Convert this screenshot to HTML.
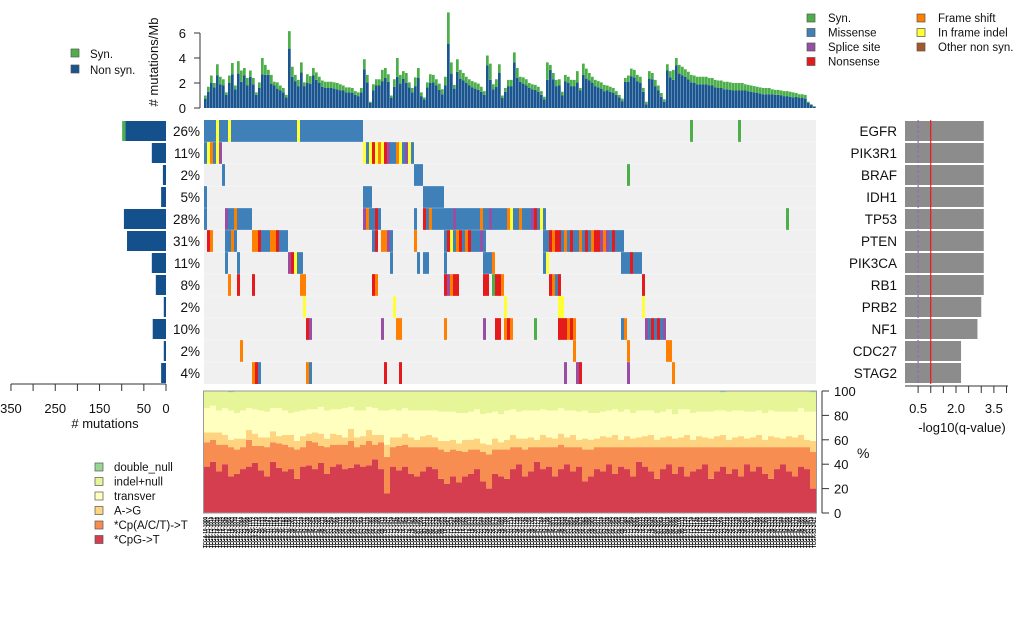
<!DOCTYPE html>
<html><head><meta charset="utf-8"><style>
html,body{margin:0;padding:0;background:#fff;}
svg{display:block;font-family:"Liberation Sans",sans-serif;}
</style></head><body>
<svg id="c" width="1020" height="624" viewBox="0 0 1020 624"></svg>
<script>
const genes=["EGFR","PIK3R1","BRAF","IDH1","TP53","PTEN","PIK3CA","RB1","PRB2","NF1","CDC27","STAG2"];
const pctLabels=["26%","11%","2%","5%","28%","31%","11%","8%","2%","10%","2%","4%"];
const geneNonSyn=[92,32,7,11,95,88,32,23,5,30,5,11];
const geneSyn=[7,0,0,0,0,0,0,0,0,0,0,0];
const qvals=[3.1,3.1,3.1,3.1,3.1,3.1,3.1,3.1,3.0,2.85,2.2,2.2];
const tmbTotal=[1.0,1.7,2.6,2.0,3.5,2.5,2.3,1.25,2.6,3.6,1.8,3.75,3.0,3.2,2.4,3.0,2.4,1.25,2.05,4.0,3.45,3.05,2.65,2.1,2.05,1.8,1.6,1.05,6.15,3.3,2.65,2.25,3.65,2.05,2.7,2.55,3.2,2.85,2.5,2.2,2.1,2.1,2.1,2.05,2.0,1.9,1.8,1.65,1.65,1.6,1.35,1.25,1.6,3.9,2.65,0.5,1.9,2.3,2.3,3.05,3.2,2.7,1.0,2.3,4.0,2.65,2.95,2.8,2.05,1.6,2.45,3.2,1.25,0.85,2.05,2.7,2.65,2.3,1.95,1.5,2.5,7.65,3.65,1.85,3.9,3.05,2.8,2.5,2.3,2.15,2.05,1.95,1.7,1.35,4.2,3.55,1.9,2.3,3.5,1.0,1.6,2.25,2.25,4.45,3.2,2.5,2.45,2.3,2.0,1.9,1.85,1.7,1.35,0.9,3.65,3.45,2.8,2.25,2.3,1.3,2.65,2.5,2.25,2.25,2.95,1.6,3.55,3.15,2.8,2.5,2.25,2.15,2.05,1.85,1.8,1.7,1.6,1.35,1.05,0.75,2.4,2.6,3.15,3.05,2.65,2.5,1.6,0.5,2.95,2.8,2.25,1.8,1.2,0.7,3.5,2.95,3.05,4.0,3.45,3.3,3.1,2.9,2.65,2.6,2.5,2.5,2.5,2.5,2.4,2.4,2.25,2.2,2.2,2.1,2.1,2.05,2.0,2.0,2.0,2.0,1.9,1.85,1.8,1.75,1.7,1.65,1.6,1.6,1.6,1.5,1.45,1.45,1.4,1.35,1.35,1.3,1.25,1.2,1.1,1.1,1.05,0.5,0.3,0.15];
const tmbSyn=[0.25,0.4,0.6,0.35,0.9,0.6,0.5,0.2,0.6,0.9,0.3,1.0,0.9,0.6,0.6,0.5,0.5,0.2,0.45,1.3,0.8,0.4,0.7,0.3,0.5,0.4,0.35,0.2,1.4,0.8,0.5,0.5,0.8,0.3,0.7,0.6,0.6,0.6,0.5,0.5,0.5,0.5,0.5,0.5,0.5,0.5,0.4,0.4,0.4,0.4,0.3,0.3,0.35,0.8,0.6,0.1,0.5,0.5,0.5,0.9,0.8,0.6,0.2,0.6,1.5,0.7,0.6,0.8,0.4,0.35,0.7,0.8,0.3,0.15,0.4,0.7,0.6,0.5,0.5,0.4,0.7,2.5,0.9,0.3,1.0,0.7,0.6,0.5,0.5,0.5,0.5,0.5,0.4,0.3,0.8,1.3,0.4,0.6,0.7,0.2,0.3,0.5,0.5,0.8,0.8,0.4,0.5,0.5,0.4,0.4,0.4,0.4,0.3,0.2,1.4,0.4,0.5,0.5,0.5,0.3,0.5,0.5,0.5,0.5,0.9,0.2,0.9,0.8,0.6,0.5,0.5,0.5,0.5,0.5,0.4,0.4,0.4,0.3,0.2,0.2,0.3,0.5,0.6,0.6,0.5,0.5,0.3,0.2,0.6,0.5,0.5,0.4,0.3,0.2,0.5,0.5,0.8,0.6,0.7,0.7,0.6,0.6,0.6,0.6,0.6,0.6,0.6,0.6,0.6,0.6,0.6,0.6,0.6,0.6,0.6,0.6,0.6,0.6,0.6,0.6,0.5,0.5,0.5,0.5,0.5,0.5,0.5,0.5,0.5,0.4,0.4,0.4,0.4,0.4,0.4,0.4,0.4,0.3,0.3,0.3,0.3,0.1,0.05,0.05];
// events: [gene index, sample index, type]
const events=[
[0,0,"M"],[0,1,"M"],[0,2,"M"],[0,3,"M"],[0,4,"I"],[0,5,"M"],[0,6,"M"],[0,7,"M"],[0,8,"I"],[0,9,"M"],[0,10,"M"],[0,11,"M"],[0,12,"M"],[0,13,"M"],[0,14,"M"],[0,15,"M"],[0,16,"M"],[0,17,"M"],[0,18,"M"],[0,19,"M"],[0,20,"M"],[0,21,"M"],[0,22,"M"],[0,23,"M"],[0,24,"M"],[0,25,"M"],[0,26,"M"],[0,27,"M"],[0,28,"M"],[0,29,"M"],[0,30,"M"],[0,31,"I"],[0,32,"M"],[0,33,"M"],[0,34,"M"],[0,35,"M"],[0,36,"M"],[0,37,"M"],[0,38,"M"],[0,39,"M"],[0,40,"M"],[0,41,"M"],[0,42,"M"],[0,43,"M"],[0,44,"M"],[0,45,"M"],[0,46,"M"],[0,47,"M"],[0,48,"M"],[0,49,"M"],[0,50,"M"],[0,51,"M"],[0,52,"M"],[0,162,"S"],[0,178,"S"],
[1,0,"M"],[1,1,"I"],[1,2,"F"],[1,3,"M"],[1,4,"I"],[1,5,"P"],[1,53,"I"],[1,54,"M"],[1,55,"I"],[1,56,"N"],[1,57,"I"],[1,58,"F"],[1,59,"I"],[1,60,"N"],[1,61,"P"],[1,62,"M"],[1,63,"M"],[1,64,"F"],[1,65,"I"],[1,66,"M"],[1,67,"P"],[1,68,"I"],[1,69,"M"],
[2,6,"M"],[2,70,"M"],[2,71,"M"],[2,72,"M"],[2,141,"S"],
[3,0,"M"],[3,53,"M"],[3,54,"M"],[3,55,"M"],[3,73,"M"],[3,74,"M"],[3,75,"M"],[3,76,"M"],[3,77,"M"],[3,78,"M"],[3,79,"M"],
[4,0,"M"],[4,7,"P"],[4,8,"M"],[4,9,"M"],[4,10,"F"],[4,11,"M"],[4,12,"M"],[4,13,"M"],[4,14,"M"],[4,15,"M"],[4,53,"P"],[4,54,"F"],[4,55,"M"],[4,56,"M"],[4,57,"N"],[4,58,"M"],[4,70,"M"],[4,73,"N"],[4,74,"M"],[4,75,"F"],[4,76,"M"],[4,77,"M"],[4,78,"M"],[4,79,"M"],[4,80,"M"],[4,81,"M"],[4,82,"M"],[4,83,"P"],[4,84,"M"],[4,85,"M"],[4,86,"M"],[4,87,"M"],[4,88,"M"],[4,89,"M"],[4,90,"M"],[4,91,"M"],[4,92,"F"],[4,93,"M"],[4,94,"M"],[4,95,"P"],[4,96,"M"],[4,97,"M"],[4,98,"M"],[4,99,"M"],[4,100,"M"],[4,101,"F"],[4,102,"I"],[4,103,"M"],[4,104,"M"],[4,105,"F"],[4,106,"M"],[4,107,"M"],[4,108,"M"],[4,109,"P"],[4,110,"N"],[4,111,"M"],[4,112,"I"],[4,113,"M"],[4,194,"S"],
[5,1,"N"],[5,2,"F"],[5,7,"M"],[5,8,"M"],[5,9,"F"],[5,10,"M"],[5,16,"F"],[5,17,"F"],[5,18,"N"],[5,19,"M"],[5,20,"M"],[5,21,"M"],[5,22,"F"],[5,23,"F"],[5,24,"N"],[5,25,"M"],[5,26,"M"],[5,27,"M"],[5,56,"M"],[5,57,"N"],[5,59,"F"],[5,60,"F"],[5,61,"P"],[5,62,"M"],[5,70,"F"],[5,80,"M"],[5,81,"N"],[5,82,"I"],[5,83,"M"],[5,84,"F"],[5,85,"N"],[5,86,"M"],[5,87,"F"],[5,88,"N"],[5,89,"M"],[5,90,"M"],[5,91,"M"],[5,92,"P"],[5,93,"M"],[5,113,"M"],[5,114,"M"],[5,115,"N"],[5,116,"F"],[5,117,"N"],[5,118,"N"],[5,119,"M"],[5,120,"F"],[5,121,"M"],[5,122,"N"],[5,123,"M"],[5,124,"M"],[5,125,"F"],[5,126,"M"],[5,127,"N"],[5,128,"M"],[5,129,"F"],[5,130,"N"],[5,131,"N"],[5,132,"P"],[5,133,"F"],[5,134,"P"],[5,135,"M"],[5,136,"N"],[5,137,"M"],[5,138,"M"],[5,139,"M"],
[6,7,"M"],[6,11,"M"],[6,28,"P"],[6,29,"N"],[6,30,"I"],[6,31,"M"],[6,32,"M"],[6,62,"M"],[6,71,"M"],[6,73,"M"],[6,74,"M"],[6,80,"M"],[6,93,"M"],[6,94,"M"],[6,95,"M"],[6,96,"F"],[6,113,"M"],[6,114,"I"],[6,139,"M"],[6,140,"M"],[6,141,"M"],[6,142,"N"],[6,143,"M"],[6,144,"M"],[6,145,"M"],
[7,8,"F"],[7,11,"N"],[7,16,"N"],[7,32,"F"],[7,33,"F"],[7,56,"N"],[7,57,"F"],[7,80,"N"],[7,81,"P"],[7,82,"F"],[7,83,"N"],[7,84,"N"],[7,93,"N"],[7,94,"N"],[7,96,"S"],[7,97,"N"],[7,98,"N"],[7,99,"F"],[7,115,"N"],[7,116,"F"],[7,117,"M"],[7,118,"N"],[7,146,"N"],
[8,33,"I"],[8,63,"I"],[8,100,"I"],[8,118,"I"],[8,119,"I"],[8,146,"I"],
[9,34,"N"],[9,35,"P"],[9,59,"P"],[9,64,"F"],[9,65,"F"],[9,80,"F"],[9,93,"P"],[9,97,"N"],[9,98,"N"],[9,100,"F"],[9,101,"N"],[9,102,"F"],[9,110,"S"],[9,118,"N"],[9,119,"N"],[9,120,"N"],[9,121,"F"],[9,122,"N"],[9,123,"F"],[9,139,"M"],[9,140,"F"],[9,147,"P"],[9,148,"M"],[9,149,"N"],[9,150,"M"],[9,151,"N"],[9,152,"M"],[9,153,"P"],
[10,12,"F"],[10,123,"F"],[10,141,"F"],[10,154,"F"],[10,155,"F"],
[11,16,"F"],[11,17,"N"],[11,18,"M"],[11,34,"F"],[11,35,"M"],[11,60,"N"],[11,65,"N"],[11,120,"P"],[11,124,"P"],[11,125,"N"],[11,141,"P"],[11,156,"F"]
];
const specCpG=[38,42,34,40,30,32,36,38,41,35,30,42,37,34,36,28,38,39,36,41,32,38,40,36,37,40,38,39,44,36,16,38,35,38,32,30,34,38,36,28,24,30,25,30,32,36,26,20,32,30,28,36,40,30,34,42,36,38,30,36,40,34,38,26,30,36,34,40,32,38,36,30,42,38,34,28,36,40,32,38,30,34,36,40,28,34,38,32,36,30,40,34,38,32,28,36,40,34,30,38,36,20];
const specCpX=[20,18,22,16,24,20,18,22,14,20,24,16,20,22,18,24,16,20,22,14,22,18,16,20,22,14,18,20,12,22,30,16,20,18,22,24,20,16,18,24,26,22,26,20,20,16,24,28,20,22,24,18,14,22,20,12,18,16,24,20,14,20,16,26,22,18,20,14,22,16,18,24,12,16,20,26,18,14,22,16,24,20,18,14,26,20,16,22,18,24,14,20,16,22,26,18,14,20,24,16,18,30];
const specAG=[8,6,10,8,6,9,7,8,10,7,8,9,6,8,10,7,9,6,8,10,7,9,8,6,10,8,7,9,8,6,10,8,7,9,8,6,9,10,8,7,9,8,6,10,8,9,7,8,9,6,8,10,7,9,8,6,10,8,7,9,8,10,6,9,8,7,9,8,10,6,9,7,8,9,10,6,8,9,7,8,10,6,9,8,7,9,10,6,8,9,7,8,10,6,9,8,7,9,8,10,6,9];
const specTV=[20,22,18,22,24,21,23,18,20,22,21,19,23,20,18,24,21,20,19,22,23,20,21,24,18,22,21,19,22,20,28,23,22,21,22,24,21,20,22,24,24,23,25,22,23,24,24,26,22,23,24,21,22,23,22,24,21,22,23,21,22,20,23,23,22,21,20,22,21,23,22,21,22,21,20,22,21,22,20,23,21,22,20,21,22,21,20,23,22,21,22,21,20,22,21,21,22,20,21,22,23,24];
const specDbl=[0,0,0,0,1,0,0,0,0,0,0,0,0,0,0,0,0,0,0,0,0,0,0,0,0,0,0,0,0,0,0,0,0,0,0,0,0,0,0,0,0,0,0,0,0,0,0,0,0,0,0,0,0,0,0,0,0,0,0,0,0,0,0,0,0,0,0,0,0,0,0,0,0,0,0,0,0,0,0,0,0,0,0,0,0,0,1,0,0,0,0,0,0,0,0,0,0,0,0,0,0,1];
const tmbTicks=[0,2,4,6];
const mutTicks=[350,250,150,50,0];
const qTicks=[0.5,2.0,3.5];
const pctTicks=[0,20,40,60,80,100];

const NS="http://www.w3.org/2000/svg";
const svg=document.getElementById('c');
function mk(tag,attrs,parent){const e=document.createElementNS(NS,tag);for(const k in attrs)e.setAttribute(k,attrs[k]);(parent||svg).appendChild(e);return e;}
const typeColor={S:"#4daf4a",M:"#3f80b9",P:"#984ea3",N:"#e41a1c",F:"#ff7f00",I:"#ffff33",O:"#a65628"};
const nSamples=tmbTotal.length;
const X0=204,X1=816,sw=(X1-X0)/nSamples;
const sx=i=>X0+i*sw;
const tmbY=v=>108-v*12.5;
const gT=mk('g',{});
for(let i=0;i<nSamples;i++){
 const tot=tmbTotal[i],syn=tmbSyn[i],ns=tot-syn;
 const r1=mk('rect',{x:sx(i),y:tmbY(ns),width:sw-0.3,height:108-tmbY(ns),fill:"#1a5590"},gT);
 
 const r2=mk('rect',{x:sx(i),y:tmbY(tot),width:sw-0.3,height:tmbY(ns)-tmbY(tot),fill:"#4daf4a"},gT);
 
}
mk('line',{x1:200,y1:tmbY(0),x2:200,y2:tmbY(6),stroke:"#333"});
tmbTicks.forEach(t=>{mk('line',{x1:194,y1:tmbY(t),x2:200,y2:tmbY(t),stroke:"#333"});
 const tx=mk('text',{x:186,y:tmbY(t)+5,'font-size':13,'text-anchor':'end',fill:'#111'});tx.textContent=t;});
const yt=mk('text',{x:0,y:0,'font-size':13,'text-anchor':'middle',transform:'translate(158,62) rotate(-90)',fill:'#111'});yt.textContent="# mutations/Mb";
[["Syn.","#4daf4a"],["Non syn.","#1a5590"]].forEach((d,k)=>{
 const r=mk('rect',{x:71,y:49+k*16,width:8,height:8,fill:d[1],stroke:'#555','stroke-width':0.7});
 const t=mk('text',{x:90,y:58+k*16,'font-size':11.5,fill:'#111'});t.textContent=d[0];});
const leg=[["Syn.","S",0,0],["Missense","M",0,1],["Splice site","P",0,2],["Nonsense","N",0,3],["Frame shift","F",1,0],["In frame indel","I",1,1],["Other non syn.","O",1,2]];
leg.forEach(d=>{const x=d[2]?917:807,y=18+d[3]*14.5;
 const r=mk('rect',{x:x,y:y-4,width:8,height:8,fill:typeColor[d[1]],stroke:'#555','stroke-width':0.7});
 const t=mk('text',{x:x+21,y:y+4,'font-size':11.5,fill:'#111'});t.textContent=d[0];});
const RY0=120,RH=22;
const bg=mk('rect',{x:X0,y:RY0,width:X1-X0,height:RH*genes.length,fill:"#f0f0f0"});
events.forEach(e=>{const r=mk('rect',{x:sx(e[1]),y:RY0+e[0]*RH,width:sw,height:RH,fill:typeColor[e[2]]});});
for(let g=1;g<genes.length;g++){mk('line',{x1:X0,y1:RY0+g*RH,x2:X1,y2:RY0+g*RH,stroke:'#fff','stroke-width':0.6,'stroke-opacity':0.5});}
const mX=v=>166-v*0.443;
const qx=v=>905.5+v*25.25;
genes.forEach((g,k)=>{const y=RY0+k*RH+1;
 const r=mk('rect',{x:mX(geneNonSyn[k]),y:y,width:166-mX(geneNonSyn[k]),height:RH-2,fill:"#13508c"});
 if(geneSyn[k]>0){const r2=mk('rect',{x:mX(geneNonSyn[k]+geneSyn[k]),y:y,width:mX(geneNonSyn[k])-mX(geneNonSyn[k]+geneSyn[k]),height:RH-2,fill:"#4daf4a"});}
 const p=mk('text',{x:200,y:y+15,'font-size':13.5,'text-anchor':'end',fill:'#111'});p.textContent=pctLabels[k];
 const gl=mk('text',{x:897,y:y+15,'font-size':13.5,'text-anchor':'end',fill:'#111'});gl.textContent=g;
 const q=mk('rect',{x:905,y:y,width:qx(qvals[k])-905,height:RH-2,fill:"#8c8c8c"});
});
mk('line',{x1:mX(350),y1:384,x2:166,y2:384,stroke:'#333'});
[350,300,250,200,150,100,50,0].forEach(t=>mk('line',{x1:mX(t),y1:384,x2:mX(t),y2:391,stroke:'#333'}));
mutTicks.forEach(t=>{const tx=mk('text',{x:mX(t),y:413,'font-size':13,'text-anchor':'middle',fill:'#111'});tx.textContent=t;});
const mt=mk('text',{x:105,y:428,'font-size':13,'text-anchor':'middle',fill:'#111'});mt.textContent="# mutations";
mk('line',{x1:qx(0.5),y1:RY0,x2:qx(0.5),y2:RY0+RH*12,stroke:'#9467bd','stroke-width':1.2,'stroke-dasharray':'3,2'});
mk('line',{x1:qx(1),y1:RY0,x2:qx(1),y2:RY0+RH*12,stroke:'#ff0000','stroke-width':1});
mk('line',{x1:905,y1:386,x2:1008,y2:386,stroke:'#333'});
[0.5,1,1.5,2,2.5,3,3.5,4].forEach(t=>mk('line',{x1:qx(t),y1:386,x2:qx(t),y2:393,stroke:'#333'}));
qTicks.forEach(t=>{const tx=mk('text',{x:qx(t),y:413,'font-size':13,'text-anchor':'middle',fill:'#111'});tx.textContent=t.toFixed(1);});
const qt=mk('text',{x:962,y:432,'font-size':13,'text-anchor':'middle',fill:'#111'});qt.textContent="-log10(q-value)";
const SY0=391,SY1=513;
const pY=v=>SY1-v*(SY1-SY0)/100;
const specCols=["#d53e4f","#f88d52","#fed481","#ffffbf","#e6f598","#99d594"];
const nS=specCpG.length,ssw=(X1-X0)/nS;
for(let i=0;i<nS;i++){
 const indel=100-specCpG[i]-specCpX[i]-specAG[i]-specTV[i]-specDbl[i];
 const vals=[specCpG[i],specCpX[i],specAG[i],specTV[i],indel,specDbl[i]];
 let acc=0;
 vals.forEach((v,k)=>{if(v<=0)return;const r=mk('rect',{x:X0+i*ssw,y:pY(acc+v),width:ssw+0.2,height:pY(acc)-pY(acc+v),fill:specCols[k]});acc+=v;});
}
mk('rect',{x:203.5,y:SY0,width:613,height:SY1-SY0,fill:'none',stroke:'#999','stroke-width':1});
mk('line',{x1:822,y1:pY(0),x2:822,y2:pY(100),stroke:'#333'});
pctTicks.forEach(t=>{mk('line',{x1:822,y1:pY(t),x2:829,y2:pY(t),stroke:'#333'});
 const tx=mk('text',{x:834,y:pY(t)+5,'font-size':13,fill:'#111'});tx.textContent=t;});
const pt=mk('text',{x:857,y:458,'font-size':14,fill:'#111'});pt.textContent="%";
const sleg=[["double_null",5],["indel+null",4],["transver",3],["A->G",2],["*Cp(A/C/T)->T",1],["*CpG->T",0]];
sleg.forEach((d,k)=>{const y=467+k*14.5;
 const r=mk('rect',{x:95,y:y-4,width:8,height:8,fill:specCols[d[1]],stroke:'#555','stroke-width':0.7});
 const t=mk('text',{x:114,y:y+4,'font-size':11.5,fill:'#111'});t.textContent=d[0];});
const gl=mk('g',{});
for(let i=0;i<nSamples;i++){
 const t=mk('text',{x:0,y:0,'font-size':5,fill:'#000','font-weight':'bold',transform:`translate(${sx(i)+3.2},517) rotate(-90)`,'text-anchor':'end','textLength':31,'lengthAdjust':'spacingAndGlyphs'},gl);
 t.textContent="TCGA-"+(10+i%80)+"-"+(1000+i*7);
 
}
</script>
</body></html>
